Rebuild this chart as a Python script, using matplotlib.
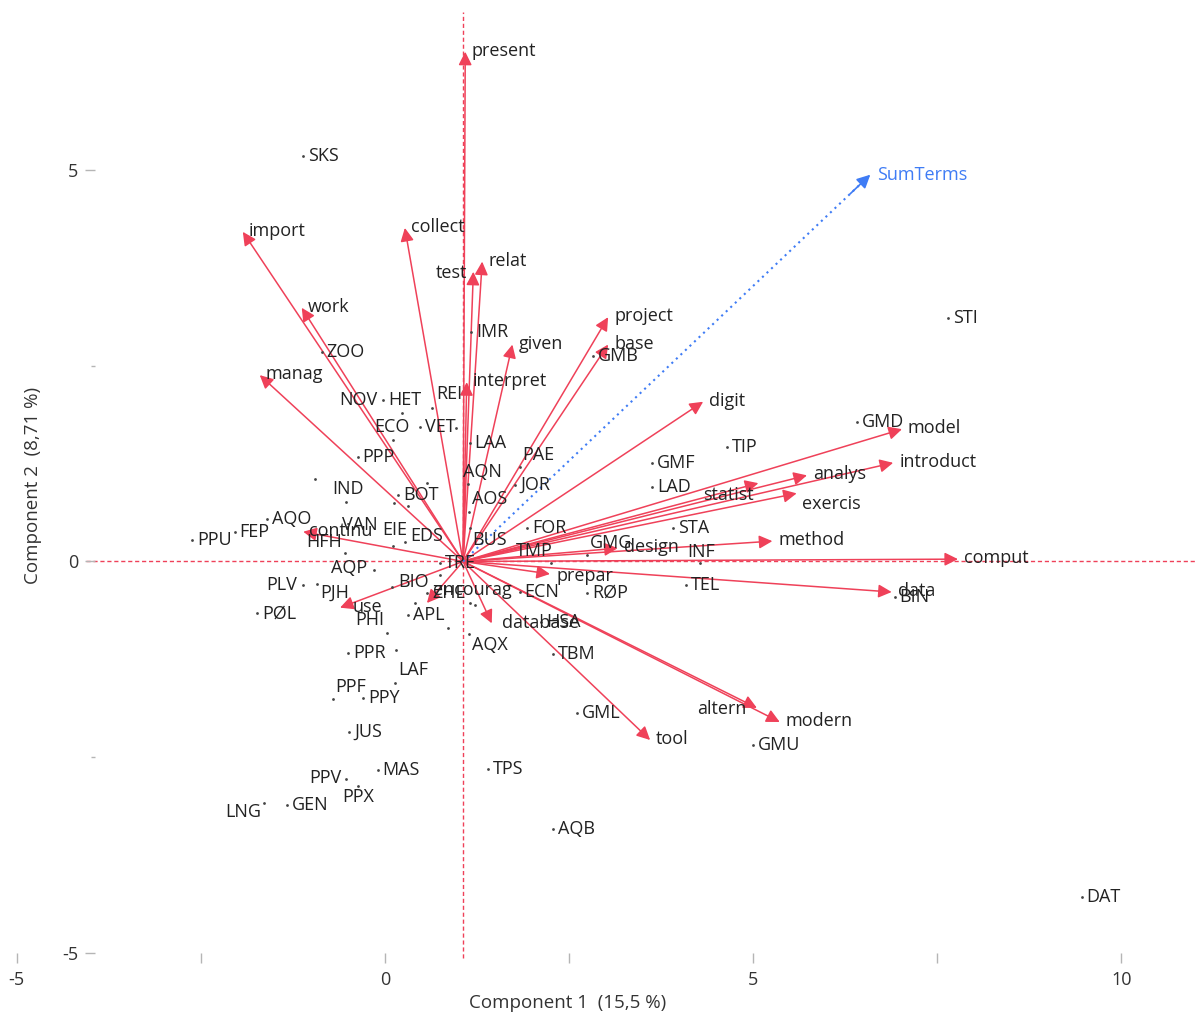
import matplotlib.pyplot as plt

plt.rcParams['font.family'] = ['Open Sans', 'DejaVu Sans']
plt.rcParams['axes.unicode_minus'] = False

# course scores on the first two components
courses = ['SKS', 'ZOO', 'IMR', 'GMB', 'STI', 'GMD', 'TIP', 'GMF', 'LAD', 'STA',
           'INF', 'TEL', 'RØP', 'ECN', 'TBM', 'GML', 'GMU', 'AQB', 'TPS', 'DAT',
           'BIN', 'GMG', 'TMP', 'FOR', 'JOR', 'PAE', 'AOS', 'LAA', 'AQN', 'BUS',
           'TRE', 'EDS', 'EIE', 'VAN', 'HFH', 'IND', 'BOT', 'PPP', 'NOV', 'HET',
           'ECO', 'VET', 'REI', 'AQO', 'FEP', 'PPU', 'AQP', 'PLV', 'PJH', 'PØL',
           'PHI', 'BIO', 'APL', 'PPR', 'LAF', 'PPF', 'PPY', 'JUS', 'MAS', 'PPV',
           'PPX', 'GEN', 'LNG', 'AQX', 'HSA', 'ZHE']
pc1 = [-1.11, -0.86, 1.17, 2.82, 7.64, 6.41, 4.64, 3.63, 3.63, 3.91,
       4.28, 4.09, 2.74, 1.83, 2.28, 2.61, 5.00, 2.28, 1.40, 9.46,
       6.92, 2.74, 2.25, 1.93, 1.77, 1.83, 1.14, 1.15, 1.13, 1.15,
       0.75, 0.27, 0.11, -0.53, -0.54, -0.95, 0.18, -0.37, -0.03, 0.23,
       0.11, 0.48, 0.64, -1.60, -2.04, -2.62, -0.15, -1.11, -0.92, -1.74,
       0.03, 0.10, 0.31, -0.50, 0.14, -0.71, -0.30, -0.49, -0.10, -0.53,
       -0.37, -1.33, -1.64, 1.14, 2.12, 0.57]
pc2 = [5.18, 2.68, 2.93, 2.63, 3.11, 1.78, 1.46, 1.26, 0.95, 0.43,
       -0.02, -0.30, -0.40, -0.39, -1.18, -1.93, -2.34, -3.42, -2.65, -4.28,
       -0.45, 0.08, -0.02, 0.43, 0.98, 1.21, 0.63, 1.51, 0.99, 0.43,
       -0.02, 0.25, 0.20, 0.76, 0.11, 1.05, 0.85, 1.33, 2.06, 1.90,
       1.55, 1.72, 1.96, 0.54, 0.38, 0.27, -0.11, -0.30, -0.29, -0.66,
       -0.91, -0.33, -0.68, -1.17, -1.55, -1.76, -1.74, -2.18, -2.66, -2.78,
       -2.87, -3.11, -3.08, -0.93, -0.77, -0.40]

# courses whose labels were suppressed
hidden_pc1 = [0.96, 0.75, 0.41, 0.86, 1.15, 1.22, 0.15, 0.31, 0.12, 0.57]
hidden_pc2 = [1.71, -0.17, -0.53, -0.85, -0.53, -0.56, -1.13, 0.71, 0.75, 1.00]

# term loadings (drawn from the centre of the term space)
terms = ['present', 'import', 'collect', 'test', 'relat', 'work', 'given', 'manag',
         'interpret', 'project', 'base', 'digit', 'model', 'introduct', 'analys',
         'statist', 'exercis', 'method', 'design', 'comput', 'data', 'prepar',
         'database', 'tool', 'altern', 'modern', 'use', 'continu', 'encourag']
load1 = [0.03, -2.99, -0.79, 0.14, 0.26, -2.19, 0.67, -2.76,
         0.05, 1.97, 1.97, 3.26, 5.96, 5.84, 4.67,
         4.01, 4.53, 4.20, 2.10, 6.72, 5.82, 1.18,
         0.39, 2.54, 3.99, 4.30, -1.67, -2.17, -0.49]
load2 = [6.51, 4.21, 4.26, 3.70, 3.83, 3.24, 2.77, 2.38,
         2.29, 3.12, 2.77, 2.04, 1.69, 1.26, 1.10,
         1.00, 0.87, 0.26, 0.17, 0.03, -0.39, -0.16,
         -0.79, -2.28, -1.87, -2.05, -0.59, 0.38, -0.53]
sum_terms = (5.53, 4.94)
centre = (1.06, 0.0)

var1, var2 = '15,5', '8,71'

# label nudges in pixels (default: right of the mark)
course_nudge = {'GMG': (3, 12), 'PAE': (3, 12), 'AOS': (3, 13), 'AQN': (-5, 12),
                'BUS': (3, -12), 'VAN': (-4, -23), 'IND': (17, -10), 'HET': (-14, 13),
                'REI': (4, 14), 'PJH': (3, -9), 'LAF': (3, 13), 'PPF': (3, 12),
                'PPX': (-15, -11), 'AQX': (3, -11), 'EDS': (5, 6), 'BIO': (6, 5)}
# labels set to the left of their point (right edge offset)
course_left = {'INF': (15, 11), 'TMP': (2, 12), 'EIE': (14, 16), 'HFH': (-3, 11),
               'NOV': (-5, 0), 'ECO': (17, 13), 'AQP': (-7, 2), 'PLV': (-6, 0),
               'PHI': (-3, 13), 'PPV': (-4, 1), 'LNG': (-3, -9)}
term_nudge = {'exercis': (5, -11), 'encourag': (6, 13), 'use': (13, 1),
              'database': (10, 0), 'prepar': (7, -2)}
term_left = {'test': (-6, -1), 'statist': (-5, -12), 'altern': (-10, -1)}

red = '#ef4159'
blue = '#3f7cf5'
ink = '#222222'
fs = 13

fig = plt.figure(figsize=(11.96, 10.16), dpi=100)
ax = fig.add_axes([0, 0, 1, 1])
ax.set_xlim(-5.227, 11.012)
ax.set_ylim(-5.805, 7.171)

# reference lines through the centre
ax.axhline(0, xmin=0.072, xmax=1, color=red, lw=1, ls=(0, (3, 2)), zorder=1)
ax.axvline(centre[0], ymin=0.057, ymax=0.988, color=red, lw=1, ls=(0, (3, 2)), zorder=1)


def label(name, xy, left, right, default, color=ink):
    if name in right:
        dx, dy = right[name]
        ha = 'right'
    else:
        dx, dy = left.get(name, default)
        ha = 'left'
    ax.annotate(name, xy, xytext=(dx, dy), textcoords='offset pixels',
                ha=ha, va='center', fontsize=fs, color=color, zorder=4)


# course points
ax.scatter(pc1, pc2, s=4, color='#444444', zorder=3, linewidths=0)
ax.scatter(hidden_pc1, hidden_pc2, s=4, color='#444444', zorder=3, linewidths=0)
for name, x, y in zip(courses, pc1, pc2):
    label(name, (x, y), course_nudge, course_left, (5, 0))

# term arrows
for name, u, v in zip(terms, load1, load2):
    tip = (centre[0] + u, centre[1] + v)
    ax.annotate('', xy=tip, xytext=centre,
                arrowprops=dict(arrowstyle='-|>', color=red, lw=1.1,
                                mutation_scale=20, shrinkA=0, shrinkB=0), zorder=2)
    label(name, tip, term_nudge, term_left, (6, 1))

# sum of all terms, dotted blue
st = (centre[0] + sum_terms[0], centre[1] + sum_terms[1])
ax.plot([centre[0], st[0]], [centre[1], st[1]], color=blue, lw=1.5, ls=(0, (1, 2)), zorder=2)
ax.annotate('', xy=st, xytext=(st[0] - 0.05 * sum_terms[0], st[1] - 0.05 * sum_terms[1]),
            arrowprops=dict(arrowstyle='-|>', color=blue, lw=1.2,
                            mutation_scale=20, shrinkA=0, shrinkB=0), zorder=2)
ax.annotate('SumTerms', st, xytext=(7, 0), textcoords='offset pixels',
            ha='left', va='center', fontsize=fs, color=blue, zorder=4)

# axes: floating tick rows, no spines
for s in ax.spines.values():
    s.set_visible(False)
ax.spines['bottom'].set_position(('data', -5.0))
ax.spines['left'].set_position(('data', -3.94))
ax.set_xticks([-5, 0, 5, 10])
ax.set_xticks([-2.5, 2.5, 7.5], minor=True)
ax.set_yticks([-5, 0, 5])
ax.set_yticks([-2.5, 2.5], minor=True)
ax.tick_params(axis='x', which='both', direction='out', length=7, width=1,
               color='#b5b5b5', labelsize=13, labelcolor='#333333', pad=6)
ax.tick_params(axis='y', which='major', direction='out', length=7, width=1,
               color='#b5b5b5', labelsize=13, labelcolor='#333333', pad=5)
ax.tick_params(axis='y', which='minor', direction='out', length=3, width=1, color='#b5b5b5')
ax.xaxis.get_major_ticks()[1].tick1line.set_color(red)
ax.yaxis.get_major_ticks()[1].tick1line.set_color(red)

fig.text(0.475, 0.0128, f'Component 1  ({var1} %)', ha='center', va='center',
         fontsize=13.5, color='#333333')
fig.text(0.0276, 0.5226, f'Component 2  ({var2} %)', ha='center', va='center',
         rotation=90, fontsize=13.5, color='#333333')

fig.savefig('out.png', dpi=100)
